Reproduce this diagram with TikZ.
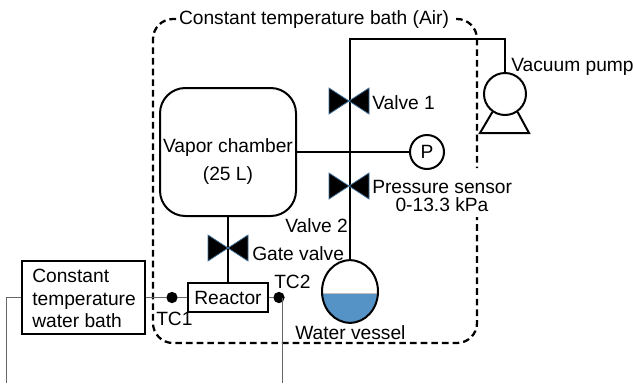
\documentclass[tikz,border=0pt]{standalone}
\usepackage{xcolor}
\usepackage{fontspec}
\setmainfont{Liberation Sans}
\usepackage{tikz}
\usetikzlibrary{shapes.geometric}

\definecolor{watercol}{HTML}{5592C6}
\definecolor{valveedge}{HTML}{3F6E96}
\newcommand{\valvesym}[2]{%
  \coordinate (#1) at (#2);
  \draw[draw=valveedge, line width=0.6pt, fill=black] (#1) ++(-20,-13) -- ++(0,26) -- ++(40,-26) -- ++(0,26) -- cycle;
}

\begin{document}
\begin{tikzpicture}[x=0.75pt, y=-0.75pt,
    lbl/.style={font=\fontsize{14.4}{17}\selectfont, inner sep=0pt},
    pipe/.style={line width=1.5pt},
    wire/.style={line width=0.75pt, draw=black!60},
    box/.style={draw, line width=1.5pt, inner sep=0pt},
    batheline/.style={line width=1.7pt, dash pattern=on 5pt off 3pt, rounded corners=15pt},
    tcdot/.style={circle, fill=black, minimum size=8.5pt, inner sep=0pt}]
        \useasboundingbox (0,0) rectangle (633,383);

        % Constant temperature bath outline
        \draw[batheline] (176,19) -- (153,19) -- (153,343) -- (477,343) -- (477,217);
        \draw[batheline] (456,19) -- (477,19) -- (477,168);
        \node[lbl] (bathlabel) at (314,20) {Constant temperature bath (Air)};

        % Main components
        \node[box, rounded corners=19pt, minimum width=102pt, minimum height=96pt] (chamber) at (228,152) {};
        \node[box, lbl, minimum width=60pt, minimum height=22pt] (reactor) at (228,297.5) {Reactor};
        \node[box, minimum width=92pt, minimum height=55pt] (waterbath) at (83.5,297.5) {};
        \node[box, circle, minimum size=31.5pt] (pump) at (505,94) {};
        \node[box, lbl, circle, minimum size=25.5pt] (gauge) at (427,152) {P};
        \node[draw, line width=1.5pt, ellipse, inner sep=0pt, minimum width=42pt, minimum height=47pt,
            path picture={
                \fill[watercol] ([yshift=-1.5pt]path picture bounding box.west) rectangle (path picture bounding box.south east);
                \draw[black!25, line width=0.5pt] ([yshift=-1.5pt]path picture bounding box.west) -- ([yshift=-1.5pt]path picture bounding box.east);
            }] (vessel) at (350,291.5) {};

        % Thermocouples
        \node[tcdot] (tc1) at (172,297.5) {};
        \node[tcdot] (tc2) at (279,297.5) {};

        % Pipe corners and junctions
        \coordinate (topcorner) at (350,39);
        \coordinate (tee) at (350,152);
        \coordinate (wireleft) at (6,383);
        \coordinate (wireright) at (282,383);

        % Pipes
        \draw[pipe] (vessel.north) -- (tee) -- (topcorner) -| (pump.north);
        \draw[pipe] (chamber.east) -- (gauge.west);
        \draw[pipe] (chamber.south) -- (reactor.north);
        \draw[pipe] (pump.-125) -- (480,133) -- (529,133) -- (pump.-55);

        % Valves
        \valvesym{valveone}{349,101}
        \valvesym{valvetwo}{349,186}
        \valvesym{gatevalve}{228,248}

        % Thin wires
        \draw[wire] (waterbath.east) -- (tc1) -- (reactor.west);
        \draw[wire] (reactor.east) -- (tc2);
        \draw[wire] (waterbath.west) -| (wireleft);
        \draw[wire] (wireright |- tc2) -- (wireright);

        % Labels
        \node[lbl, align=left, anchor=west] (waterbathlabel) at (32,298.5) {Constant\\temperature\\water bath};
        \node[lbl] (chamberlabel) at (228,147.5) {Vapor chamber};
        \node[lbl] (volumelabel) at (228,176) {(25 L)};
        \node[lbl, anchor=west] (valveonelabel) at (372,103) {Valve 1};
        \node[lbl, anchor=west] (pumplabel) at (511,67) {Vacuum pump};
        \node[lbl, anchor=west] (sensorlabel) at (372,187) {Pressure sensor};
        \node[lbl] (rangelabel) at (442,205) {0-13.3 kPa};
        \node[lbl, anchor=west] (valvetwolabel) at (285,226) {Valve 2};
        \node[lbl, anchor=west] (gatelabel) at (252,253.5) {Gate valve};
        \node[lbl, anchor=west] (tctwolabel) at (274,282) {TC2};
        \node[lbl, anchor=west] (tconelabel) at (156,318.5) {TC1};
        \node[lbl, anchor=west] (vessellabel) at (295,332.5) {Water vessel};
    \end{tikzpicture}
\end{document}
